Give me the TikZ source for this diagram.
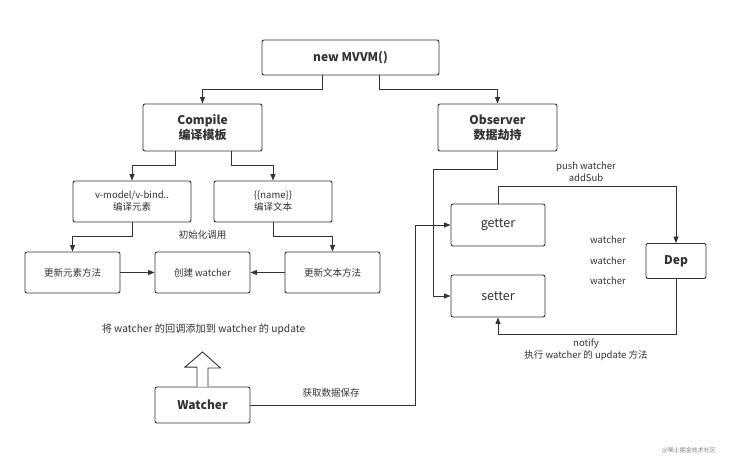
\documentclass[tikz,border=0pt]{standalone}
\usepackage{fontspec}
\setmainfont{Noto Sans CJK SC}
\usetikzlibrary{arrows.meta}

\definecolor{lc}{HTML}{333333}
\definecolor{tc}{HTML}{333333}

\tikzset{
  box/.style={draw=lc, line width=0.9pt, rounded corners=2pt, fill=white,
    text=tc, inner sep=0pt, align=center, font=\fontsize{9.5}{12}\selectfont},
  titlebox/.style={box, font=\bfseries\fontsize{12}{15}\selectfont},
  flow/.style={draw=lc, line width=0.9pt, -{Triangle[length=6.5pt,width=5pt]}},
  lbl/.style={text=tc, align=center, inner sep=0pt, font=\fontsize{9.5}{12.5}\selectfont},
}

\begin{document}
\begin{tikzpicture}[x=1pt, y=-1pt]

\useasboundingbox (0,0) rectangle (730,462);

% top
\node[titlebox, minimum width=177pt, minimum height=35pt] (mvvm) at (350.5, 57.5) {new MVVM()};
\node[titlebox, minimum width=119pt, minimum height=47pt] (compile) at (202.5, 127.5) {Compile\\编译模板};
\node[titlebox, minimum width=119pt, minimum height=47pt] (observer) at (497.5, 127.5) {Observer\\数据劫持};

% compile side
\node[box, minimum width=118pt, minimum height=41pt] (vmodel) at (132, 201.5) {v-model/v-bind..\\编译元素};
\node[box, minimum width=118pt, minimum height=41pt] (tname) at (273, 201.5) {\{\{name\}\}\\编译文本};

\node[box, minimum width=95pt, minimum height=41pt] (upel) at (72.5, 272.5) {更新元素方法};
\node[box, minimum width=95pt, minimum height=41pt] (mkw) at (202.5, 272.5) {创建 watcher};
\node[box, minimum width=95pt, minimum height=41pt] (uptx) at (332.5, 272.5) {更新文本方法};

\node[titlebox, minimum width=95pt, minimum height=36pt] (watcher) at (202.5, 405) {Watcher};

% observer side
\node[box, font=\fontsize{12.5}{14}\selectfont, minimum width=94pt, minimum height=42pt] (getter) at (498, 225) {getter};
\node[box, font=\fontsize{12.5}{14}\selectfont, minimum width=94pt, minimum height=42pt] (setter) at (498, 296) {setter};
\node[titlebox, minimum width=60pt, minimum height=35pt] (dep) at (676, 261) {Dep};

% labels
\node[lbl] (init) at (202.5, 235) {初始化调用};
\node[lbl, font=\fontsize{10.2}{12.5}\selectfont] (addcb) at (203.5, 329) {将 watcher 的回调添加到 watcher 的 update};
\node[lbl] (save) at (331, 393) {获取数据保存};
\node[lbl] (push) at (586, 172) {push watcher\\addSub};
\node[lbl] (notify) at (586, 349.5) {notify\\执行 watcher 的 update 方法};
\node[lbl] (wa) at (608, 240) {watcher};
\node[lbl] (wb) at (608, 261) {watcher};
\node[lbl] (wc) at (608, 281) {watcher};
\node[lbl, text=gray, font=\fontsize{6}{7}\selectfont] (mark) at (689, 450) {@稀土掘金技术社区};

% connectors
\draw[flow] ([xshift=-28.5pt]mvvm.south) -- ++(0,14) -| (compile.north);
\draw[flow] ([xshift=28.5pt]mvvm.south) -- ++(0,14) -| (observer.north);
\draw[flow] ([xshift=-27.5pt]compile.south) -- ++(0,14) -| (vmodel.north);
\draw[flow] ([xshift=28.5pt]compile.south) -- ++(0,14) -| (tname.north);
\draw[flow] (vmodel.south) -- ++(0,14.5) -| (upel.north);
\draw[flow] (tname.south) -- ++(0,14.5) -| (uptx.north);
\draw[flow] (upel) -- (mkw);
\draw[flow] (uptx) -- (mkw);

\coordinate (wbend) at (415, 405);
\draw[flow] (watcher.east) -- (wbend) |- (getter.west);

\coordinate (obend) at (433, 169);
\draw[flow] (observer.south) |- (obend) |- (setter.west);

\draw[flow] (getter.north) -- ++(0,-17) -| (dep.north);
\draw[flow] (dep.south) -- ++(0,55) -| (setter.south);

% hollow arrow
\draw[lc, line width=0.9pt, fill=white, line join=miter]
  ([xshift=-5.5pt]watcher.north) -- ++(0,-19.5) -- ++(-12,0) -- (202.5,352)
  -- (220.5,368) -- ++(-12.5,0) -- ([xshift=5.5pt]watcher.north);

\end{tikzpicture}
\end{document}
